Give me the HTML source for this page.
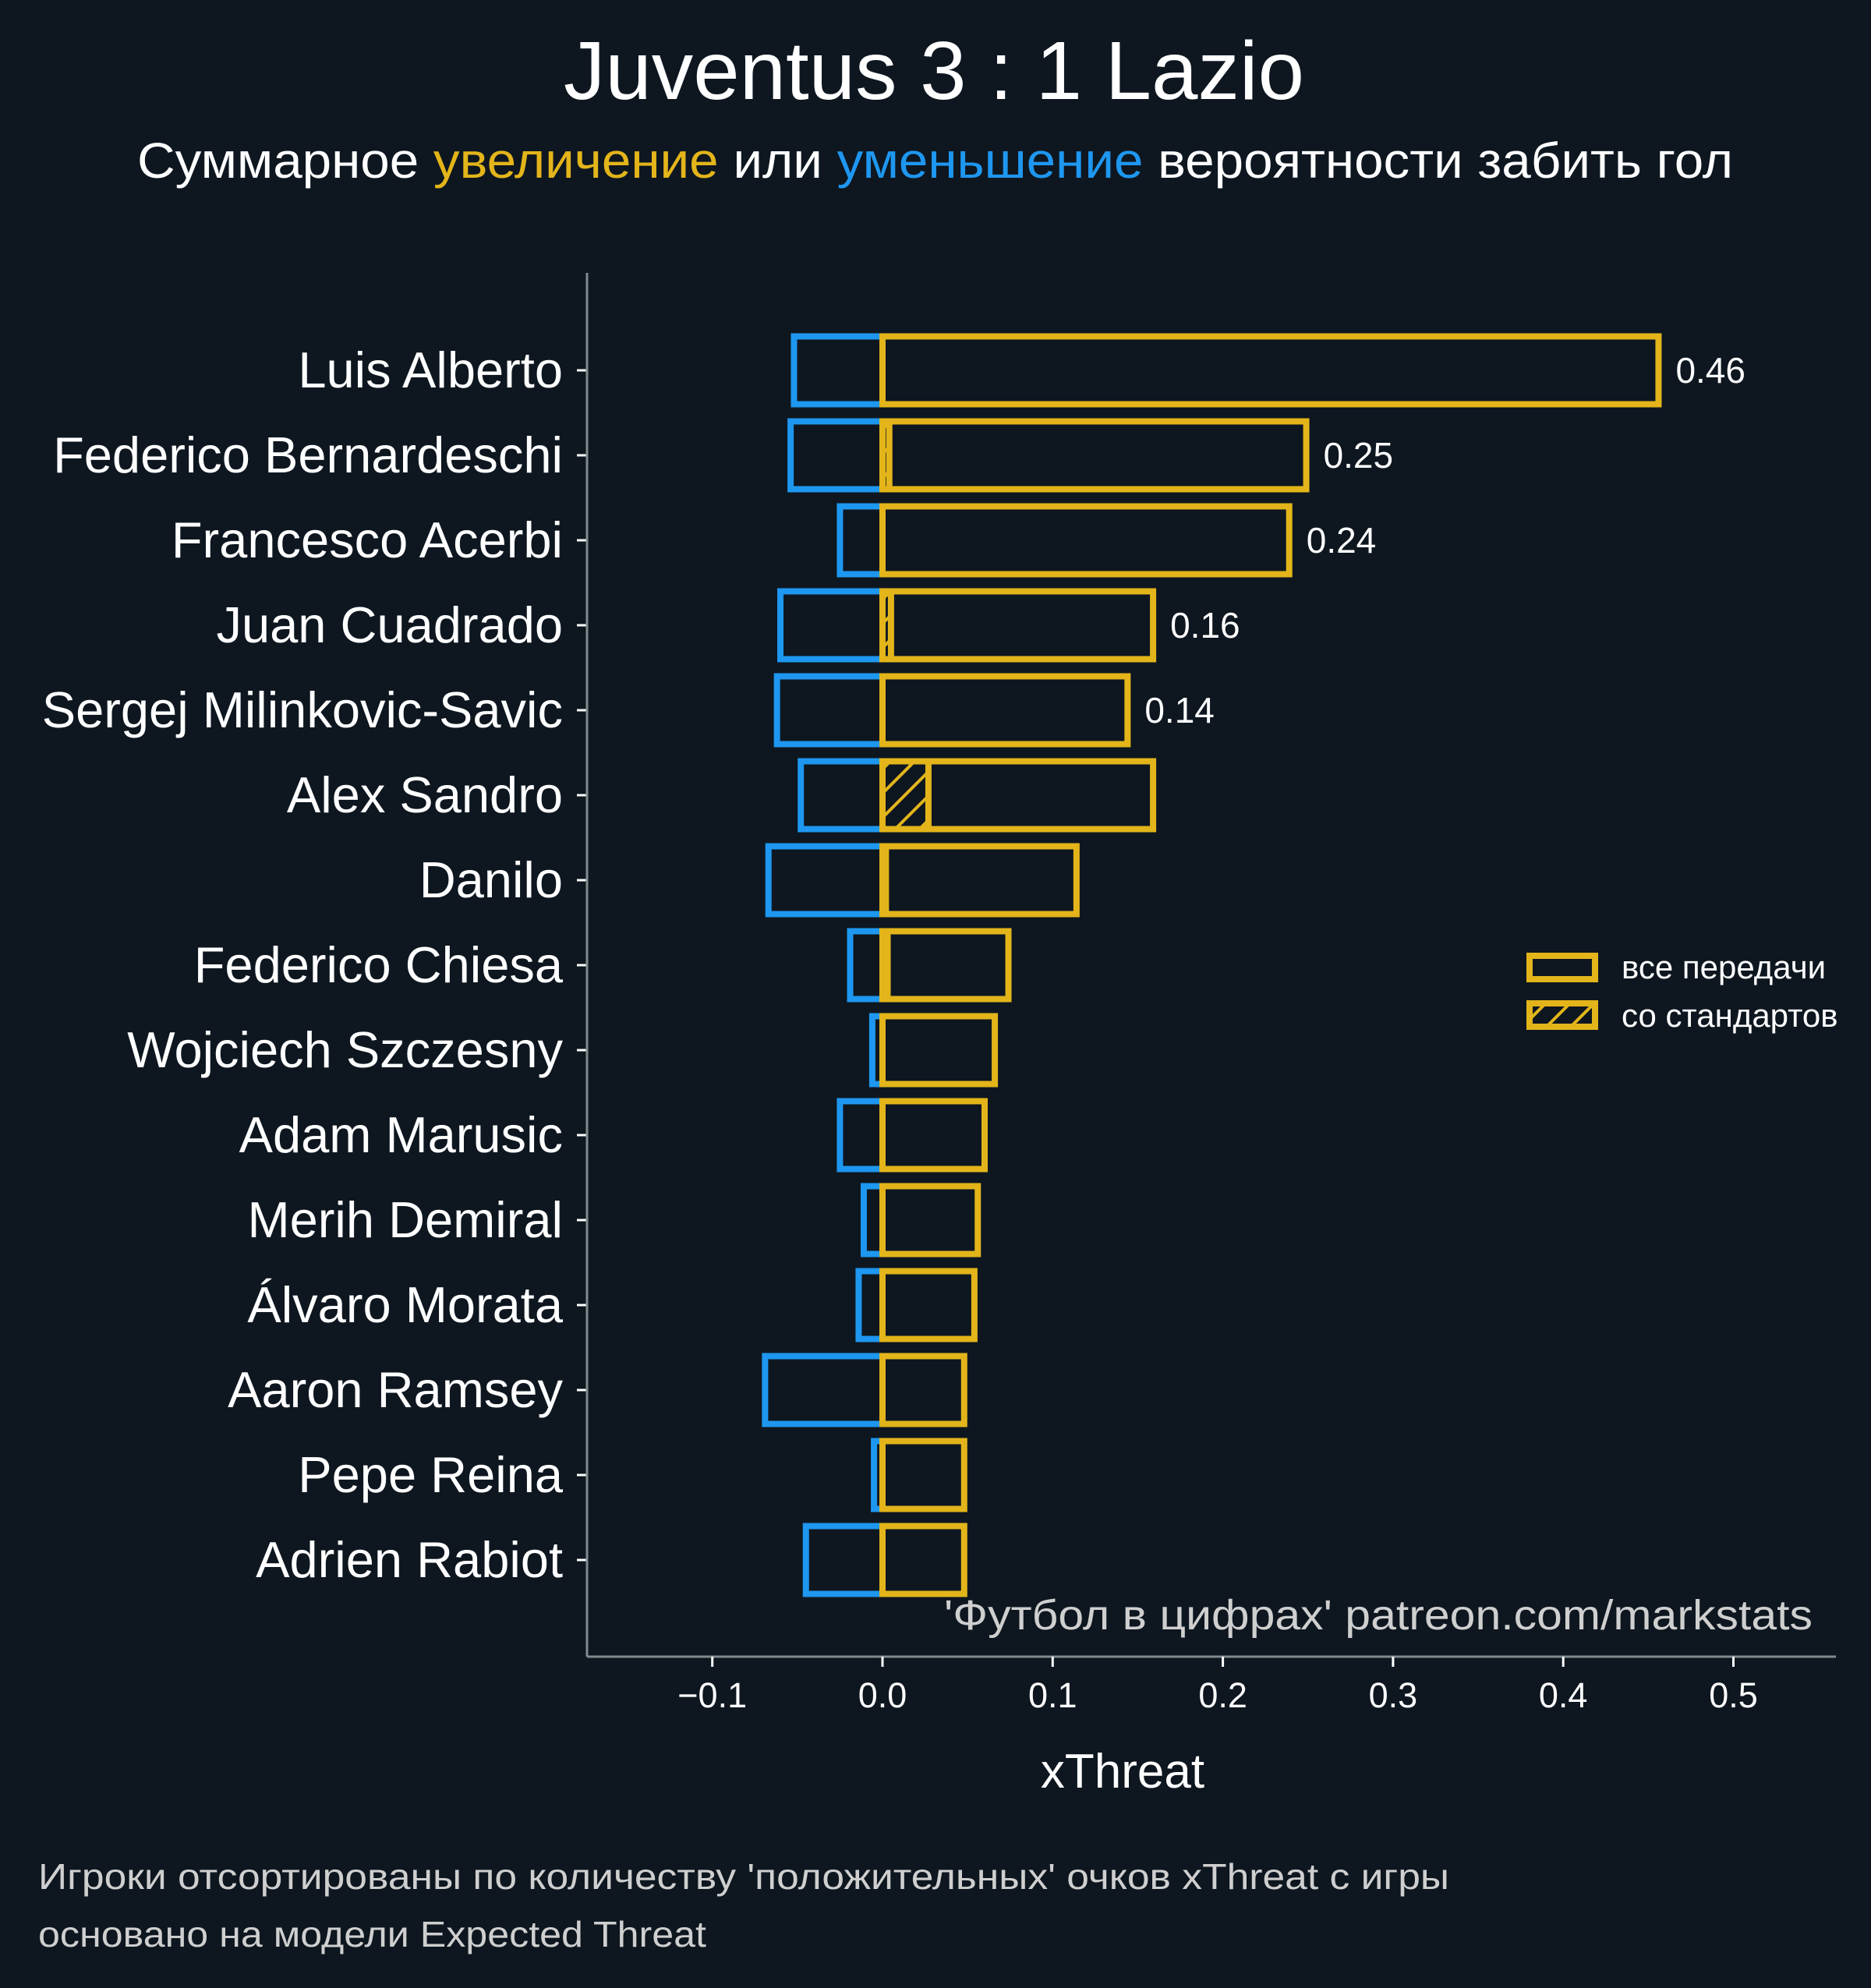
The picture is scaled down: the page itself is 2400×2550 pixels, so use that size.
<!DOCTYPE html>
<html><head><meta charset="utf-8"><style>
body{margin:0;background:#0e1720;}
svg{display:block;font-family:"Liberation Sans",sans-serif;}
</style></head><body>
<svg id="chart" width="2400" height="2550" viewBox="0 0 2400 2550" xmlns="http://www.w3.org/2000/svg">
<defs>
<pattern id="hatch" patternUnits="userSpaceOnUse" width="22" height="22" patternTransform="rotate(45)">
<rect width="22" height="22" fill="#0e1720"/>
<line x1="0" y1="0" x2="0" y2="22" stroke="#e3b51a" stroke-width="8"/>
</pattern>
</defs>
<rect width="2400" height="2550" fill="#0e1720"/>
<text x="1198" y="127" text-anchor="middle" font-size="106" fill="#ffffff" textLength="950" lengthAdjust="spacingAndGlyphs">Juventus 3 : 1 Lazio</text>
<text x="176" y="228" font-size="64" fill="#ffffff" textLength="2047" lengthAdjust="spacingAndGlyphs">Суммарное <tspan fill="#e3b51a">увеличение</tspan> или <tspan fill="#1e97f0">уменьшение</tspan> вероятности забить гол</text>
<g id="plot"></g>
<line x1="753" y1="350" x2="753" y2="2125" stroke="#7f8c8d" stroke-width="3"/>
<line x1="753" y1="2125" x2="2355" y2="2125" stroke="#7f8c8d" stroke-width="3"/>
<g id="xticks"></g>
<text x="1440" y="2293" text-anchor="middle" font-size="62" fill="#ffffff">xThreat</text>
<text x="1211" y="2090" font-size="54" fill="#cfcfcf" textLength="1114" lengthAdjust="spacingAndGlyphs">'Футбол в цифрах' patreon.com/markstats</text>
<g>
<rect x="1962" y="1226" width="84" height="30" fill="none" stroke="#e3b51a" stroke-width="8"/>
<text x="2080" y="1255" font-size="42" fill="#ffffff">все передачи</text>
<rect x="1962" y="1287" width="84" height="30" fill="url(#hatch)" stroke="#e3b51a" stroke-width="8"/>
<text x="2080" y="1317" font-size="42" fill="#ffffff">со стандартов</text>
</g>
<text x="49" y="2423" font-size="46" fill="#cfcfcf" textLength="1810" lengthAdjust="spacingAndGlyphs">Игроки отсортированы по количеству 'положительных' очков xThreat с игры</text>
<text x="49" y="2497" font-size="46" fill="#cfcfcf" textLength="857" lengthAdjust="spacingAndGlyphs">основано на модели Expected Threat</text>
</svg>
<script>
const players = ["Luis Alberto","Federico Bernardeschi","Francesco Acerbi","Juan Cuadrado","Sergej Milinkovic-Savic","Alex Sandro","Danilo","Federico Chiesa","Wojciech Szczesny","Adam Marusic","Merih Demiral","Álvaro Morata","Aaron Ramsey","Pepe Reina","Adrien Rabiot"];
const positive = [0.456,0.249,0.239,0.159,0.144,0.159,0.114,0.074,0.066,0.060,0.056,0.054,0.048,0.048,0.048];
const negative = [-0.052,-0.054,-0.025,-0.060,-0.062,-0.048,-0.067,-0.019,-0.006,-0.025,-0.011,-0.014,-0.069,-0.005,-0.045];
const setPiece = [0,0.004,0,0.005,0,0.027,0.002,0.003,0,0,0,0,0,0,0];
const valueLabels = ["0.46","0.25","0.24","0.16","0.14","","","","","","","","","",""];
const xTicks = [-0.1,0.0,0.1,0.2,0.3,0.4,0.5];
const xTickLabels = ["−0.1","0.0","0.1","0.2","0.3","0.4","0.5"];

const NS="http://www.w3.org/2000/svg";
const x = v => 1132 + v*2183;
const y = i => 475 + i*109;
const BH = 87;
const plot = document.getElementById('plot');
const xt = document.getElementById('xticks');
function mk(tag, attrs, parent){const e=document.createElementNS(NS,tag);for(const k in attrs)e.setAttribute(k,attrs[k]);parent.appendChild(e);return e;}

players.forEach((p,i)=>{
  const cy=y(i);
  const t=mk('text',{x:722,y:cy+22,'text-anchor':'end','font-size':65,fill:'#ffffff'},plot);
  
  
  t.textContent=p;
  const tk=mk('line',{x1:740,y1:cy,x2:753,y2:cy,stroke:'#ffffff','stroke-width':3},plot);
  
  
  const nb=mk('rect',{x:x(negative[i]),y:cy-BH/2,width:x(0)-x(negative[i]),height:BH,fill:'none',stroke:'#1e97f0','stroke-width':8},plot);
  
  
  if(setPiece[i]>0){
    const sb=mk('rect',{x:x(0),y:cy-BH/2,width:x(setPiece[i])-x(0),height:BH,fill:'url(#hatch)',stroke:'#e3b51a','stroke-width':8},plot);
    
    
  }
  const pb=mk('rect',{x:x(0),y:cy-BH/2,width:x(positive[i])-x(0),height:BH,fill:'none',stroke:'#e3b51a','stroke-width':8},plot);
  
  
  if(valueLabels[i]){
    const vl=mk('text',{x:x(positive[i])+22,y:cy+16,'font-size':46,fill:'#ffffff'},plot);
    
    
    vl.textContent=valueLabels[i];
  }
});
xTicks.forEach((v,i)=>{
  const l=mk('line',{x1:x(v),y1:2125,x2:x(v),y2:2138,stroke:'#ffffff','stroke-width':3},xt);
  
  
  const t=mk('text',{x:x(v),y:2190,'text-anchor':'middle','font-size':45,fill:'#ffffff'},xt);
  
  
  t.textContent=xTickLabels[i];
});
</script>
</body></html>
